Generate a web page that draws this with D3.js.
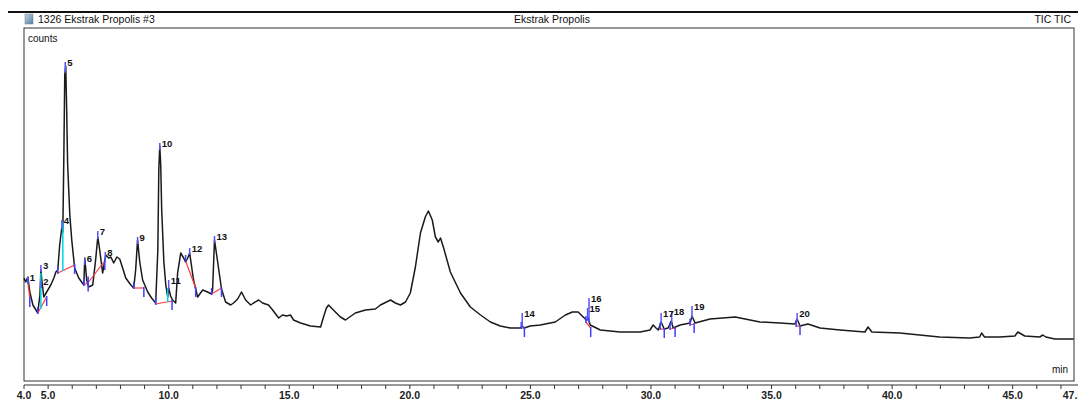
<!DOCTYPE html>
<head>
  <meta charset="utf-8">
  <script src="https://d3js.org/d3.v7.min.js"></script>
  <style>
    body { margin: 0; background: #fff; }
    svg text { font-family: Arial, "Liberation Sans", sans-serif; fill: #111; }
    .peak-label { font-size: 9.5px; font-weight: bold; }
    .tick-label { font-size: 10.5px; font-weight: bold; fill: #222; }
  </style>
</head>
<body>
  <svg id="chart"></svg>
  <script>
    var width = 1078;
    var height = 401;

    // TIC trace: retention time (min) and counts (arbitrary units)
    var traceTime = [4.00, 4.07, 4.16, 4.24, 4.37, 4.57, 4.66, 4.70, 4.74, 4.82, 4.94, 5.11, 5.24, 5.32, 5.40,
      5.48, 5.57, 5.61, 5.65, 5.69, 5.73, 5.77, 5.81, 5.90, 5.98, 6.10, 6.27, 6.48, 6.52, 6.60, 6.68, 6.85,
      6.97, 7.06, 7.14, 7.26, 7.39, 7.51, 7.60, 7.72, 7.85, 7.97, 8.09, 8.22, 8.43, 8.55, 8.63, 8.71, 8.80, 8.92,
      9.13, 9.29, 9.46, 9.55, 9.59, 9.63, 9.67, 9.71, 9.80, 9.88, 9.96, 10.00, 10.08, 10.16, 10.29, 10.37,
      10.50, 10.62, 10.70, 10.79, 10.87, 11.03, 11.20, 11.41, 11.61, 11.78, 11.82, 11.90, 11.99, 12.19, 12.36,
      12.57, 12.69, 12.86, 13.02, 13.19, 13.40, 13.52, 13.73, 13.89, 14.14, 14.31, 14.56, 14.72, 14.89, 15.05,
      15.18, 15.47, 15.88, 16.30, 16.42, 16.54, 16.63, 16.83, 17.12, 17.33, 17.74, 18.16, 18.57, 18.78, 19.20,
      19.40, 19.61, 19.82, 20.02, 20.15, 20.23, 20.44, 20.64, 20.77, 20.93, 21.06, 21.18, 21.27, 21.39, 21.68,
      22.10, 22.51, 22.93, 23.34, 23.75, 24.17, 24.58, 24.66, 24.75, 24.99, 25.41, 26.03, 26.45, 26.74, 26.98,
      27.19, 27.32, 27.40, 27.48, 27.90, 28.72, 29.55, 29.96, 30.09, 30.21, 30.30, 30.42, 30.55, 30.71, 30.84,
      30.92, 31.21, 31.62, 31.70, 31.83, 32.45, 33.49, 34.52, 35.35, 35.97, 36.06, 36.18, 36.51, 37.01, 37.84,
      38.87, 39.00, 39.16, 40.32, 41.14, 41.97, 43.21, 43.63, 43.71, 43.83, 44.46, 45.09, 45.21, 45.50, 46.12,
      46.25, 46.37, 46.75, 47.53];
    var traceCounts = [103, 99, 104, 89, 76, 68, 86, 111, 101, 84, 89, 96, 103, 109, 111,
      136, 154, 149, 221, 306, 315, 271, 216, 166, 141, 113, 103, 96, 123, 101, 94, 96,
      121, 144, 131, 108, 126, 123, 124, 118, 124, 122, 113, 103, 96, 93, 111, 141, 119, 101,
      89, 83, 78, 131, 211, 235, 216, 171, 119, 96, 84, 93, 85, 81, 78, 108,
      128, 123, 119, 123, 128, 101, 84, 91, 89, 87, 91, 141, 126, 92, 79,
      76, 78, 82, 89, 81, 76, 78, 81, 78, 76, 71, 63, 66, 65, 66,
      61, 58, 55, 54, 64, 73, 76, 71, 64, 61, 68, 71, 72, 76, 81,
      78, 76, 79, 88, 104, 114, 148, 164, 170, 161, 144, 139, 143, 134, 109,
      88, 74, 66, 59, 55, 53, 53, 55, 53, 55, 56, 59, 66, 69, 69,
      64, 61, 63, 56, 51, 49, 49, 51, 56, 53, 51, 59, 52, 53, 60,
      53, 56, 58, 65, 58, 62, 64, 59, 58, 57, 62, 55, 57, 53, 51,
      49, 54, 49, 48, 46, 44, 43, 44, 48, 44, 44, 45, 49, 45, 44,
      46, 44, 42, 42];

    // peak numbers, apex time and marker top level (counts)
    var peakIds = [1, 2, 3, 4, 5, 6, 7, 8, 9, 10, 11, 12, 13, 14, 15, 16, 17, 18, 19, 20];
    var peakTime = [4.16, 4.72, 4.70, 5.57, 5.71, 6.52, 7.06, 7.37, 8.71, 9.63, 10.00, 10.87, 11.90,
      24.66, 27.37, 27.43, 30.42, 30.86, 31.70, 36.06];
    var peakLevel = [104, 100, 116, 161, 319, 123, 150, 129, 144, 238, 101, 133, 145,
      68, 73, 83, 68, 70, 75, 68];

    // integration baselines: [start time, start counts, end time, end counts]
    var baselines = [
      [4.16, 98, 4.24, 83], [4.57, 68, 4.94, 84], [5.40, 108, 6.10, 116],
      [6.48, 96, 6.66, 98.5], [6.66, 98.5, 7.35, 120], [8.55, 93, 8.97, 93],
      [9.46, 77, 10.14, 80], [10.70, 120, 11.12, 93], [11.78, 87, 12.19, 93],
      [24.62, 53, 24.75, 53], [27.30, 59, 27.50, 53], [30.38, 52, 30.55, 52],
      [30.79, 52, 31.00, 53], [31.62, 56, 31.79, 57], [36.02, 55, 36.18, 55]
    ];
    // perpendicular drops between fused peaks: [time, low counts, high counts]
    var drops = [[4.70, 72, 108], [5.61, 110, 159], [9.96, 79, 93]];

    var xTicks = d3.range(4, 48, 1);
    var xLabels = [4, 5, 10, 15, 20, 25, 30, 35, 40, 45, 47.5];

    var svg = d3.select("#chart")
      .attr("width", width)
      .attr("height", height);

    var x = d3.scaleLinear().domain([4, 47.5]).range([24, 1073]);
    var y = d3.scaleLinear().domain([0, 353]).range([381, 28]);

    //header bar
    svg.append("line")
      .attr("x1", 8).attr("x2", width).attr("y1", 12).attr("y2", 12)
      .attr("stroke", "#111").attr("stroke-width", 2);
    var grad = svg.append("defs").append("linearGradient")
      .attr("id", "ico").attr("x1", 0).attr("y1", 0).attr("x2", 1).attr("y2", 1);
    grad.append("stop").attr("offset", "0%").attr("stop-color", "#c9d3dc");
    grad.append("stop").attr("offset", "100%").attr("stop-color", "#4f7fa6");
    svg.append("rect")
      .attr("x", 25).attr("y", 14).attr("width", 8).attr("height", 10)
      .attr("fill", "url(#ico)").attr("stroke", "#6d7f8f").attr("stroke-width", 0.5);
    svg.append("text").attr("x", 38).attr("y", 22.5).style("font-size", "10.5px")
      .text("1326 Ekstrak Propolis #3");
    svg.append("text").attr("x", 552).attr("y", 22.5).attr("text-anchor", "middle")
      .style("font-size", "10.5px").text("Ekstrak Propolis");
    svg.append("text").attr("x", 1071).attr("y", 22.5).attr("text-anchor", "end")
      .style("font-size", "10.5px").text("TIC TIC");

    //plot frame
    svg.append("rect")
      .attr("x", 24).attr("y", 28).attr("width", 1050).attr("height", 353)
      .attr("fill", "none").attr("stroke", "#333").attr("stroke-width", 1);
    svg.append("text").attr("x", 28).attr("y", 42).style("font-size", "10px").text("counts");
    svg.append("text").attr("x", 1068).attr("y", 373).attr("text-anchor", "end")
      .style("font-size", "10px").text("min");

    //x axis
    svg.append("line")
      .attr("x1", 24).attr("x2", width).attr("y1", 385).attr("y2", 385)
      .attr("stroke", "#333").attr("stroke-width", 1);
    svg.selectAll(".minor").data(xTicks).enter().append("line")
      .attr("class", "minor")
      .attr("x1", d => x(d)).attr("x2", d => x(d))
      .attr("y1", 385).attr("y2", 389)
      .attr("stroke", "#333");
    svg.selectAll(".tick-label").data(xLabels).enter().append("text")
      .attr("class", "tick-label")
      .attr("x", d => x(d)).attr("y", 399)
      .attr("text-anchor", "middle")
      .text(d => d.toFixed(1));

    var plot = svg.append("g");

    var trace = traceTime.map((t, i) => [t, traceCounts[i]]);
    var line = d3.line().x(d => x(d[0])).y(d => y(d[1]));
    plot.append("path")
      .attr("d", line(trace))
      .attr("fill", "none")
      .attr("stroke", "#1a1a1a")
      .attr("stroke-width", 1.5)
      .attr("stroke-linejoin", "round");

    //linear lookup on the trace
    var bis = d3.bisector(d => d).left;
    function traceAt(t) {
      var i = Math.max(1, Math.min(traceTime.length - 1, bis(traceTime, t)));
      var t0 = traceTime[i - 1], t1 = traceTime[i];
      var f = (t - t0) / (t1 - t0);
      return traceCounts[i - 1] + f * (traceCounts[i] - traceCounts[i - 1]);
    }

    //baselines and integration ticks
    plot.selectAll(".base").data(baselines).enter().append("line")
      .attr("x1", d => x(d[0])).attr("y1", d => y(d[1]))
      .attr("x2", d => x(d[2])).attr("y2", d => y(d[3]))
      .attr("stroke", "#ff3b3b").attr("stroke-width", 1.2);
    plot.selectAll(".drop").data(drops).enter().append("line")
      .attr("x1", d => x(d[0])).attr("x2", d => x(d[0]))
      .attr("y1", d => y(d[1])).attr("y2", d => y(d[2]))
      .attr("stroke", "#00d4e6").attr("stroke-width", 1.5);
    plot.selectAll(".st").data(baselines).enter().append("line")
      .attr("x1", d => x(d[0])).attr("x2", d => x(d[0]))
      .attr("y1", d => y(d[1]) - 6).attr("y2", d => y(d[1]) + 1)
      .attr("stroke", "#3f3fff").attr("stroke-width", 1.5);
    plot.selectAll(".en").data(baselines).enter().append("line")
      .attr("x1", d => x(d[2])).attr("x2", d => x(d[2]))
      .attr("y1", d => y(d[3]) - 1).attr("y2", d => y(d[3]) + 9)
      .attr("stroke", "#3f3fff").attr("stroke-width", 1.5);

    //peak apex markers and numbers
    var peaks = peakIds.map((id, i) => ({ id: id, t: peakTime[i], c: peakLevel[i] }));
    plot.selectAll(".apex").data(peaks).enter().append("line")
      .attr("x1", d => x(d.t)).attr("x2", d => x(d.t))
      .attr("y1", d => y(d.c))
      .attr("y2", d => Math.max(y(d.c) + 7, y(traceAt(d.t)) + 2))
      .attr("stroke", "#5555ff").attr("stroke-width", 1.5);
    plot.selectAll(".peak-label").data(peaks).enter().append("text")
      .attr("class", "peak-label")
      .attr("x", d => x(d.t) + 2)
      .attr("y", d => y(d.c) + 4)
      .text(d => d.id);
  </script>
</body>
